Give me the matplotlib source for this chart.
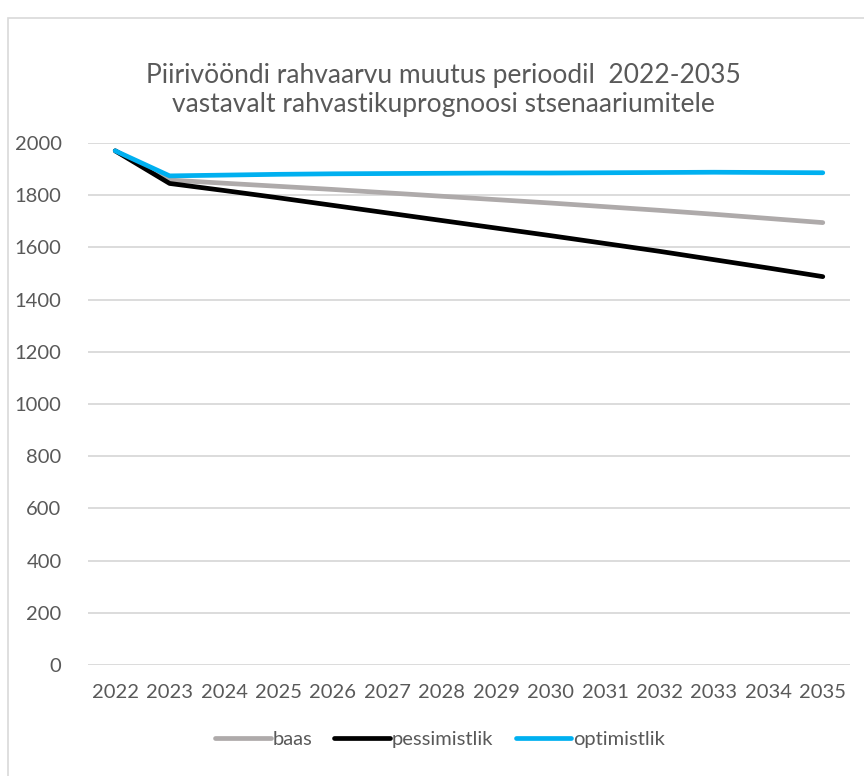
import numpy as np
import matplotlib.pyplot as plt
from matplotlib.patches import Rectangle

plt.rcParams["font.family"] = ["Lato", "DejaVu Sans"]

years = [str(y) for y in range(2022, 2036)]
baas = [1970, 1858, 1846, 1834, 1822, 1809, 1796, 1783, 1770, 1756, 1742, 1727, 1711, 1695]
pessimistlik = [1970, 1845, 1818, 1790, 1761, 1732, 1703, 1674, 1645, 1615, 1585, 1553, 1521, 1488]
optimistlik = [1970, 1874, 1877, 1880, 1882, 1883, 1884, 1885, 1885, 1886, 1887, 1888, 1887, 1886]

title = "Piirivööndi rahvaarvu muutus perioodil  2022-2035\nvastavalt rahvastikuprognoosi stsenaariumitele"
text_col = "#595959"

fig = plt.figure(figsize=(8.64, 7.76), dpi=100)
fig.patches.append(Rectangle((8 / 864, -0.05), 1.1, (776 - 18) / 776 + 0.05,
                             transform=fig.transFigure, fill=False,
                             edgecolor="#d9d9d9", linewidth=1.2))
ax = fig.add_axes([88 / 864, (776 - 665) / 776, (850 - 88) / 864, (665 - 143) / 776])

x = np.arange(len(years))
ax.plot(x, baas, color="#AEAAAA", lw=3.4, solid_capstyle="round", label="baas")
ax.plot(x, pessimistlik, color="#000000", lw=3.4, solid_capstyle="round", label="pessimistlik")
ax.plot(x, optimistlik, color="#00B0F0", lw=3.4, solid_capstyle="round", label="optimistlik")

ax.set_xlim(-0.5, len(years) - 0.5)
ax.set_ylim(0, 2000)
ax.set_yticks(range(0, 2001, 200))
ax.set_xticks(x)
ax.set_xticklabels(years)
ax.yaxis.grid(True, color="#d9d9d9", lw=1.3)
ax.set_axisbelow(True)
for s in ax.spines.values():
    s.set_visible(False)
ax.tick_params(axis="both", length=0, labelsize=14.5, colors=text_col)
ax.tick_params(axis="y", pad=19)
ax.tick_params(axis="x", pad=14)

fig.text(0.513, (776 - 90) / 776, title, ha="center", va="center",
         fontsize=19, color=text_col, linespacing=1.2)

ax.legend(loc="center", bbox_to_anchor=(440 / 864, (776 - 739) / 776),
          bbox_transform=fig.transFigure, ncol=3, frameon=False,
          fontsize=14.5, labelcolor=text_col, handlelength=2.75,
          handletextpad=0.1, columnspacing=1.1)

fig.savefig("out.png", dpi=100)
